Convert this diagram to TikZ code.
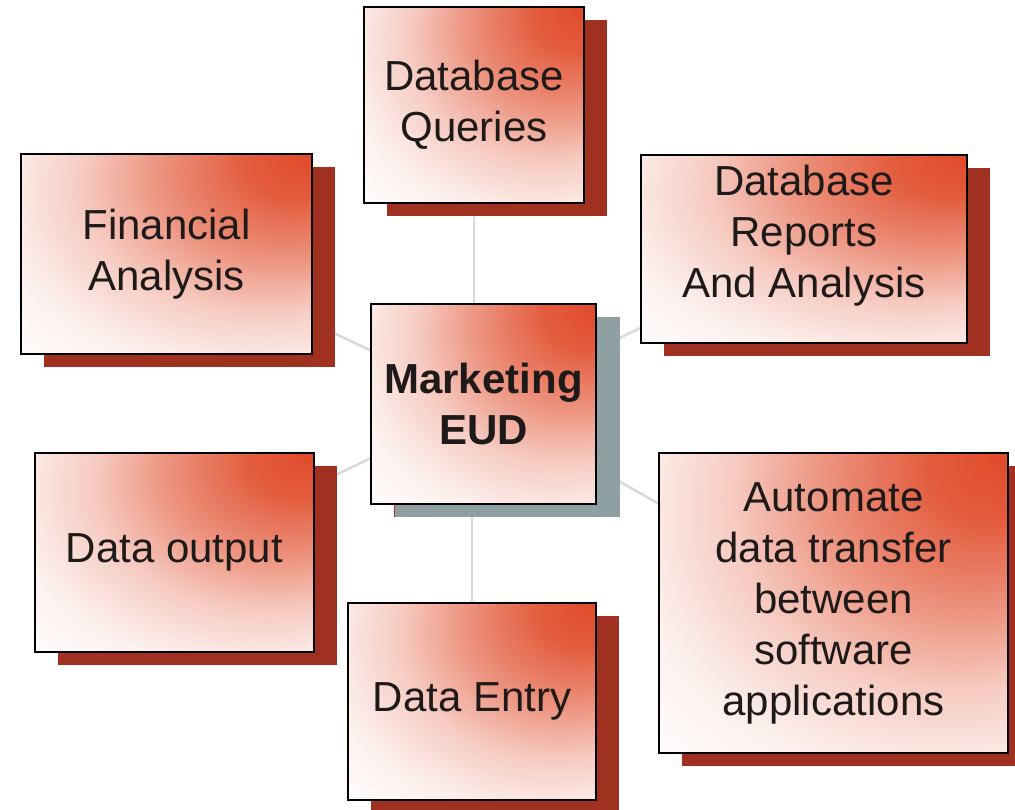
\documentclass[tikz,border=0pt]{standalone}
\usepackage{fontspec}
\setmainfont{Liberation Sans}
\usetikzlibrary{shadows,backgrounds}
\definecolor{cred}{HTML}{E04A28}
\definecolor{shadowred}{HTML}{A0301F}
\definecolor{hubshadow}{HTML}{8FA0A3}
\definecolor{linkgray}{HTML}{D6DADA}
\definecolor{txt}{HTML}{1E1A1A}
\pgfdeclareradialshading{cornerglow}{\pgfpoint{25bp}{25bp}}{%
  color(0bp)=(cred);
  color(9bp)=(cred!90!white);
  color(21bp)=(cred!60!white);
  color(32bp)=(cred!28!white);
  color(43bp)=(cred!8!white);
  color(54bp)=(white);
  color(100bp)=(white)}
\tikzset{
  card/.style={draw=black, line width=1.8pt, shading=cornerglow,
    align=center, text=txt, inner sep=0pt,
    font=\fontsize{42}{51}\selectfont,
    drop shadow={shadow xshift=23pt, shadow yshift=-13pt, fill=shadowred, opacity=1}},
  hubcard/.style={card, font=\fontsize{42}{51}\selectfont\bfseries,
    drop shadow={shadow xshift=24pt, shadow yshift=-13pt, fill=hubshadow, opacity=1}},
  link/.style={draw=linkgray, line width=2.5pt}
}
\begin{document}
\begin{tikzpicture}[x=1pt,y=-1pt]
\useasboundingbox (0,0) rectangle (1015,809);
\node[hubcard, minimum width=225pt, minimum height=200pt] (hub) at (483.5,404) {Marketing\\EUD};
\node[card, minimum width=220pt, minimum height=196pt] (dbq) at (474,105) {Database\\Queries};
\node[card, minimum width=291pt, minimum height=200pt] (fa) at (166.5,254) {Financial\\Analysis};
\node[card, minimum width=326pt, minimum height=188pt,
  label={[name=dbrt, align=center, text=txt, font=\fontsize{42}{51}\selectfont, yshift=13pt]center:Database\\Reports\\And Analysis}] (dbr) at (804,249) {};
\node[card, minimum width=279pt, minimum height=199pt] (do) at (174.5,552.5) {Data output};
\node[card, minimum width=248pt, minimum height=197pt] (de) at (472,701.5) {Data Entry};
\node[card, minimum width=349pt, minimum height=300pt] (auto) at (833.5,603) {Automate\\data transfer\\between\\software\\applications};
\begin{scope}[on background layer]
\fill[white] (0,0) rectangle (1015,809);
\draw[link] (dbq) -- (dbq |- hub);
\draw[link] (de) -- (de |- hub);
\draw[link] (hub) -- (fa);
\draw[link] (hub) -- (do);
\draw[link] (hub) -- (dbr);
\draw[link] (hub) -- (auto);
\end{scope}
\end{tikzpicture}
\end{document}
